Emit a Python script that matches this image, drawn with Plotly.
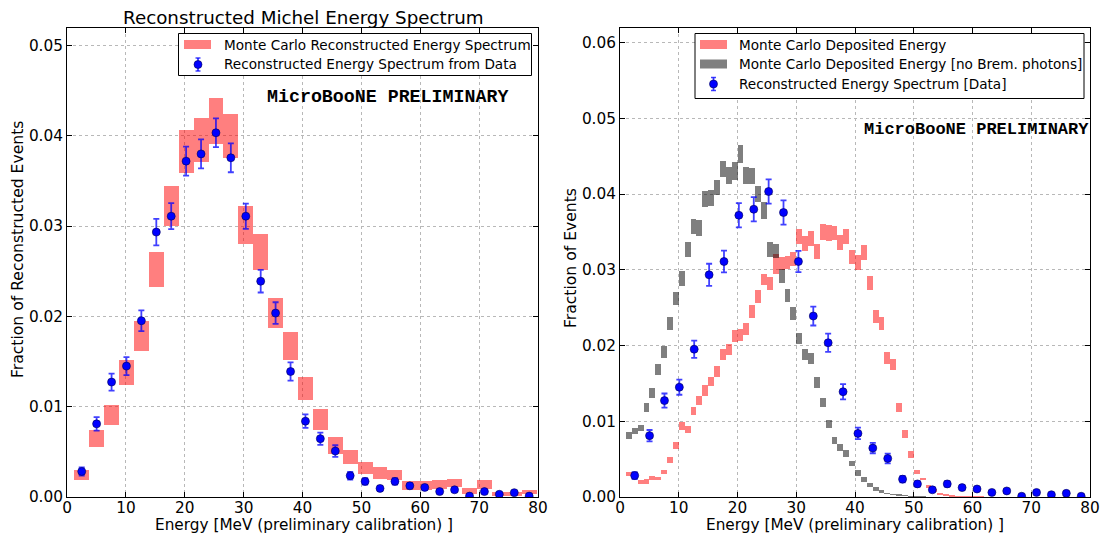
import plotly.graph_objects as go

# ---------------- data ----------------
# data points (shared by both panels)
DATA_E = [2.50, 5.03, 7.57, 10.10, 12.63, 15.17, 17.70, 20.23, 22.77, 25.30, 27.83,
          30.37, 32.90, 35.43, 37.97, 40.50, 43.03, 45.57, 48.10, 50.63, 53.17, 55.70,
          58.23, 60.77, 63.30, 65.83, 68.37, 70.90, 73.43, 75.97, 78.50]
DATA_FRAC = [0.00283, 0.0081, 0.01273, 0.0145, 0.01952, 0.02934, 0.0311, 0.0372, 0.0380,
             0.04034, 0.03757, 0.0311, 0.0239, 0.02037, 0.0139, 0.0084, 0.00646, 0.00509,
             0.00236, 0.00173, 0.00095, 0.00173, 0.00124, 0.00106, 0.0006, 0.0008, 0.0001,
             0.0006, 0.0003, 0.00048, 0.0001]
DATA_ERR = [0.00045, 0.00075, 0.00094, 0.0010, 0.00114, 0.00146, 0.00144, 0.0016, 0.0016,
            0.0016, 0.0016, 0.0014, 0.00125, 0.0012, 0.0010, 0.00075, 0.00068, 0.00064,
            0.00042, 0.00036, 0.00028, 0.00036, 0.0003, 0.00028, 0.0002, 0.00024, 0.0001,
            0.0002, 0.00015, 0.00018, 0.0001]

# left panel: MC reconstructed energy band (low / high edge per bin)
MC_RECO_LO = [0.00192, 0.0056, 0.0080, 0.0125, 0.0162, 0.02332, 0.0301, 0.0359, 0.0372,
              0.0392, 0.0376, 0.0281, 0.02517, 0.01875, 0.0152, 0.0108, 0.0075, 0.0048,
              0.00369, 0.00258, 0.0021, 0.00192, 0.00087, 0.00087, 0.00099, 0.00117,
              0.00043, 0.00099, 0.00014, 0.00014, 0.0004]
MC_RECO_HI = [0.00305, 0.00752, 0.01029, 0.01524, 0.01956, 0.0272, 0.03447, 0.0407, 0.0420,
              0.04422, 0.04248, 0.03233, 0.02916, 0.02214, 0.01834, 0.0134, 0.00985, 0.00668,
              0.00527, 0.00398, 0.00339, 0.00306, 0.0018, 0.0018, 0.00192, 0.00206,
              0.00103, 0.00192, 0.00059, 0.00059, 0.00087]

# right panel: MC deposited energy (1 MeV bins, centres)
DEP_E = [1.5, 2.5, 3.5, 4.5, 5.5, 6.5, 7.5, 8.5, 9.5, 10.5, 11.5, 12.5, 13.5, 14.5, 15.5,
         16.5, 17.5, 18.5, 19.5, 20.5, 21.5, 22.5, 23.5, 24.5, 25.5, 26.5, 27.5, 28.5,
         29.5, 30.5, 31.5, 32.5, 33.5, 34.5, 35.5, 36.5, 37.5, 38.5, 39.5, 40.5, 41.5,
         42.5, 43.5, 44.5, 45.5, 46.5, 47.5, 48.5, 49.5, 50.5, 51.5, 52.5, 53.5, 54.5,
         55.5, 56.5, 57.5, 58.5, 59.5, 60.5, 61.5, 62.5]
DEP_LO = [0.0029, 0.0027, 0.00172, 0.0018, 0.00233, 0.00225, 0.00313, 0.00454, 0.00643,
          0.00885, 0.0085, 0.01083, 0.01215, 0.01347, 0.01466, 0.0159, 0.0181, 0.01876,
          0.02052, 0.0207, 0.0214, 0.02373, 0.02567, 0.0280, 0.02734, 0.02955, 0.02999,
          0.0302, 0.03055, 0.03351, 0.03255, 0.0332, 0.03153, 0.03405, 0.0339, 0.03395,
          0.03272, 0.0335, 0.03078, 0.0300, 0.03131, 0.02743, 0.02303, 0.02215, 0.01766,
          0.01678, 0.01127, 0.00788, 0.00524, 0.00304, 0.00225, 0.00128, 0.00079, 0.00031,
          0.00018, 0.00012, 0.0001, 0.00008, 0.00006, 0.00005, 0.00004, 0.00003]
DEP_HI = [0.00343, 0.0032, 0.00225, 0.00238, 0.00282, 0.00269, 0.00365, 0.00533, 0.00731,
          0.00991, 0.00938, 0.01193, 0.01347, 0.0148, 0.0159, 0.01735, 0.01964, 0.02021,
          0.02215, 0.0223, 0.02303, 0.02536, 0.02734, 0.02955, 0.0291, 0.03219, 0.03175,
          0.03193, 0.0324, 0.03549, 0.03455, 0.03525, 0.0335, 0.03615, 0.03593, 0.03585,
          0.0346, 0.0355, 0.03263, 0.03197, 0.03329, 0.02919, 0.02479, 0.02382, 0.0192,
          0.01832, 0.01246, 0.00885, 0.00612, 0.00365, 0.00264, 0.00167, 0.0011, 0.00057,
          0.0004, 0.0003, 0.00025, 0.0002, 0.00017, 0.00015, 0.00014, 0.0001]

# right panel: MC deposited energy without Brem photons
NOBREM_E = [1.5, 2.5, 3.5, 4.5, 5.5, 6.5, 7.5, 8.5, 9.5, 10.5, 11.5, 12.5, 13.5, 14.5,
            15.5, 16.5, 17.5, 18.5, 19.5, 20.5, 21.5, 22.5, 23.5, 24.5, 25.5, 26.5, 27.5,
            28.5, 29.5, 30.5, 31.5, 32.5, 33.5, 34.5, 35.5, 36.5, 37.5, 38.5, 39.5, 40.5,
            41.5, 42.5, 43.5, 44.5, 45.5, 46.5, 47.5, 48.5, 49.5, 50.5, 51.5, 52.5, 53.5,
            54.5, 55.5]
NOBREM_LO = [0.00775, 0.0084, 0.00876, 0.01127, 0.01317, 0.01612, 0.0184, 0.02215, 0.0254,
             0.02796, 0.03175, 0.03483, 0.03452, 0.03835, 0.03844, 0.0399, 0.04232, 0.0414,
             0.0419, 0.04421, 0.0414, 0.0414, 0.0390, 0.0368, 0.03175, 0.0316, 0.0283,
             0.0258, 0.02338, 0.02021, 0.01819, 0.01766, 0.01449, 0.01193, 0.00916, 0.0070,
             0.00608, 0.00533, 0.0041, 0.0029, 0.00211, 0.00145, 0.00092, 0.00066, 0.0004,
             0.0003, 0.00022, 0.00015, 0.0001, 0.00008, 0.00005, 0.00004, 0.00003, 0.00002,
             0.00001]
NOBREM_HI = [0.00863, 0.00916, 0.00964, 0.01246, 0.01449, 0.01757, 0.01995, 0.02382, 0.0271,
             0.02985, 0.03373, 0.03681, 0.03659, 0.04047, 0.04055, 0.04196, 0.04443, 0.0436,
             0.0443, 0.0465, 0.0436, 0.0435, 0.0411, 0.0390, 0.0337, 0.0335, 0.0302,
             0.02757, 0.02514, 0.02178, 0.01964, 0.01907, 0.0159, 0.01312, 0.01026, 0.00797,
             0.0070, 0.00621, 0.00476, 0.00357, 0.00269, 0.00194, 0.00137, 0.00101, 0.00066,
             0.0005, 0.0004, 0.0003, 0.00024, 0.0002, 0.00016, 0.00013, 0.0001, 0.00008,
             0.00006]

X_TICKS = [0, 10, 20, 30, 40, 50, 60, 70, 80]
Y_TICKS_L = [0.00, 0.01, 0.02, 0.03, 0.04, 0.05]
Y_TICKS_R = [0.00, 0.01, 0.02, 0.03, 0.04, 0.05, 0.06]

LEGEND_L = ["Monte Carlo Reconstructed Energy Spectrum",
            "Reconstructed Energy Spectrum from Data"]
LEGEND_R = ["Monte Carlo Deposited Energy",
            "Monte Carlo Deposited Energy [no Brem. photons]",
            "Reconstructed Energy Spectrum [Data]"]

# ---------------- styling ----------------
W, H = 1102, 537
RED = "rgba(255,0,0,0.5)"
GRAY = "rgba(0,0,0,0.5)"
BLUE = "#0000ff"
ERRC = "rgba(0,0,255,0.75)"
FONT = "DejaVu Sans"
TICK_SIZE = 15.3
LEG_SIZE = 13.6


def px(x):
    return x / W


def py(y):
    return 1 - y / H


fig = go.Figure()

# ---- left panel ----
fig.add_trace(go.Bar(
    x=DATA_E, base=MC_RECO_LO, y=[h - l for h, l in zip(MC_RECO_HI, MC_RECO_LO)],
    width=2.53, marker=dict(color=RED, line=dict(width=0)),
    name=LEGEND_L[0], xaxis="x", yaxis="y", showlegend=False))
fig.add_trace(go.Scatter(
    x=DATA_E, y=DATA_FRAC, mode="markers",
    error_y=dict(type="data", array=DATA_ERR, color=ERRC, thickness=1.8, width=3),
    marker=dict(color=BLUE, size=8, line=dict(color="#000050", width=0.6)),
    name=LEGEND_L[1], xaxis="x", yaxis="y", showlegend=False))

# ---- right panel ----
fig.add_trace(go.Bar(
    x=DEP_E, base=DEP_LO, y=[h - l for h, l in zip(DEP_HI, DEP_LO)],
    width=1.0, marker=dict(color=RED, line=dict(width=0)),
    name=LEGEND_R[0], xaxis="x2", yaxis="y2", showlegend=False))
fig.add_trace(go.Bar(
    x=NOBREM_E, base=NOBREM_LO, y=[h - l for h, l in zip(NOBREM_HI, NOBREM_LO)],
    width=1.0, marker=dict(color=GRAY, line=dict(width=0)),
    name=LEGEND_R[1], xaxis="x2", yaxis="y2", showlegend=False))
fig.add_trace(go.Scatter(
    x=DATA_E, y=DATA_FRAC, mode="markers",
    error_y=dict(type="data", array=DATA_ERR, color=ERRC, thickness=1.8, width=3),
    marker=dict(color=BLUE, size=8, line=dict(color="#000050", width=0.6)),
    name=LEGEND_R[2], xaxis="x2", yaxis="y2", showlegend=False))

axis_common = dict(
    showline=True, linecolor="black", linewidth=1, mirror="ticks",
    ticks="inside", ticklen=5, tickcolor="black", automargin=False,
    showgrid=True, gridcolor="#b8b8b8", griddash="dot", gridwidth=1,
    zeroline=False, tickfont=dict(family=FONT, size=TICK_SIZE, color="black"),
    ticklabeloverflow="allow",
)

fig.update_layout(
    width=W, height=H,
    margin=dict(l=0, r=0, t=0, b=0, autoexpand=False),
    paper_bgcolor="white", plot_bgcolor="white",
    barmode="overlay", bargap=0, showlegend=False,
    font=dict(family=FONT, color="black"),
    xaxis=dict(domain=[px(67), px(538)], range=[0, 80], tickvals=X_TICKS,
               anchor="y", ticklabelstandoff=-3, **axis_common),
    yaxis=dict(domain=[py(497), py(27.5)], range=[0, 0.052], tickvals=Y_TICKS_L,
               tickformat=".2f", anchor="x", **axis_common),
    xaxis2=dict(domain=[px(620), px(1090)], range=[0, 80], tickvals=X_TICKS,
                anchor="y2", ticklabelstandoff=-3, **axis_common),
    yaxis2=dict(domain=[py(497), py(27.5)], range=[0, 0.062], tickvals=Y_TICKS_R,
                tickformat=".2f", anchor="x2", **axis_common),
)


# ---------------- legends (drawn as boxes, patches and text) ----------------
def rect(x0, y0, x1, y1, fill, line_color=None, lw=0):
    fig.add_shape(type="rect", xref="paper", yref="paper",
                  x0=px(x0), x1=px(x1), y0=py(y1), y1=py(y0),
                  fillcolor=fill, layer="above",
                  line=dict(color=line_color or fill, width=lw))


def seg(x0, y0, x1, y1, color, lw):
    fig.add_shape(type="line", xref="paper", yref="paper",
                  x0=px(x0), x1=px(x1), y0=py(y0), y1=py(y1), layer="above",
                  line=dict(color=color, width=lw))


def data_icon(cx, cy):
    seg(cx, cy - 6.5, cx, cy + 6.5, ERRC, 1.8)
    seg(cx - 2.5, cy - 6.5, cx + 2.5, cy - 6.5, ERRC, 1.5)
    seg(cx - 2.5, cy + 6.5, cx + 2.5, cy + 6.5, ERRC, 1.5)
    fig.add_shape(type="circle", xref="paper", yref="paper",
                  x0=px(cx - 4), x1=px(cx + 4), y0=py(cy + 4), y1=py(cy - 4),
                  fillcolor=BLUE, layer="above", line=dict(color="#000050", width=0.6))


def legend_text(x, y, text):
    fig.add_annotation(text=text, xref="paper", yref="paper", x=px(x), y=py(y),
                       xanchor="left", yanchor="middle", showarrow=False,
                       font=dict(family=FONT, size=LEG_SIZE, color="black"))


# left legend
rect(178.5, 33.5, 531.5, 75.5, "white", "black", 1)
rect(184, 40, 211, 49, RED)
data_icon(198, 64.5)
legend_text(222, 44.5, LEGEND_L[0])
legend_text(222, 64.5, LEGEND_L[1])

# right legend
rect(695, 33.5, 1084, 98.5, "white", "black", 1)
rect(700, 40, 727, 49, RED)
rect(700, 59.5, 727, 68.5, GRAY)
data_icon(713.5, 84)
legend_text(737, 44.5, LEGEND_R[0])
legend_text(737, 64, LEGEND_R[1])
legend_text(737, 84, LEGEND_R[2])

# ---------------- other texts ----------------
annos = [
    dict(text="Reconstructed Michel Energy Spectrum", x=px(303), y=py(17),
         font=dict(family=FONT, size=18.3)),
    dict(text="<b>MicroBooNE PRELIMINARY</b>", x=px(265), y=py(97), xanchor="left",
         font=dict(family="Liberation Mono", size=18.3)),
    dict(text="<b>MicroBooNE PRELIMINARY</b>", x=px(862), y=py(130), xanchor="left",
         font=dict(family="Liberation Mono", size=17)),
    dict(text="Energy [MeV (preliminary calibration) ]", x=px(304), y=py(525),
         font=dict(family=FONT, size=15.3)),
    dict(text="Energy [MeV (preliminary calibration) ]", x=px(855), y=py(525),
         font=dict(family=FONT, size=15.3)),
    dict(text="Fraction of Reconstructed Events", x=px(18), y=py(250), textangle=-90,
         font=dict(family=FONT, size=15.6)),
    dict(text="Fraction of Events", x=px(571), y=py(258), textangle=-90,
         font=dict(family=FONT, size=15.6)),
]
for a in annos:
    base = dict(xref="paper", yref="paper", showarrow=False, xanchor="center",
                yanchor="middle")
    base.update(a)
    fig.add_annotation(**base)

fig.write_html("out.html", config={"displayModeBar": False},
               post_script="document.body.style.margin='0';")
